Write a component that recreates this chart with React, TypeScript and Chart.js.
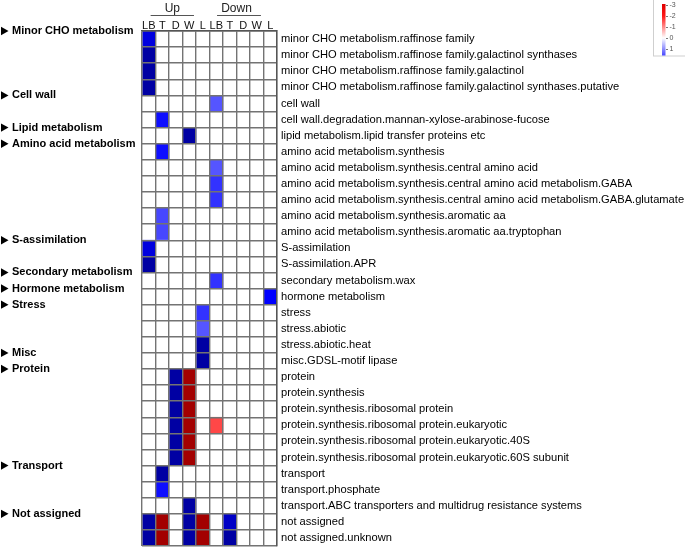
import React, { useEffect, useRef } from 'react';
import { Chart, registerables } from 'chart.js';

Chart.register(...registerables);

const ROW_LABELS = [
  'minor CHO metabolism.raffinose family',
  'minor CHO metabolism.raffinose family.galactinol synthases',
  'minor CHO metabolism.raffinose family.galactinol',
  'minor CHO metabolism.raffinose family.galactinol synthases.putative',
  'cell wall',
  'cell wall.degradation.mannan-xylose-arabinose-fucose',
  'lipid metabolism.lipid transfer proteins etc',
  'amino acid metabolism.synthesis',
  'amino acid metabolism.synthesis.central amino acid',
  'amino acid metabolism.synthesis.central amino acid metabolism.GABA',
  'amino acid metabolism.synthesis.central amino acid metabolism.GABA.glutamate',
  'amino acid metabolism.synthesis.aromatic aa',
  'amino acid metabolism.synthesis.aromatic aa.tryptophan',
  'S-assimilation',
  'S-assimilation.APR',
  'secondary metabolism.wax',
  'hormone metabolism',
  'stress',
  'stress.abiotic',
  'stress.abiotic.heat',
  'misc.GDSL-motif lipase',
  'protein',
  'protein.synthesis',
  'protein.synthesis.ribosomal protein',
  'protein.synthesis.ribosomal protein.eukaryotic',
  'protein.synthesis.ribosomal protein.eukaryotic.40S',
  'protein.synthesis.ribosomal protein.eukaryotic.60S subunit',
  'transport',
  'transport.phosphate',
  'transport.ABC transporters and multidrug resistance systems',
  'not assigned',
  'not assigned.unknown',
];

const COLUMN_LABELS = ['LB', 'T', 'D', 'W', 'L', 'LB', 'T', 'D', 'W', 'L'];
const GROUP_LABELS = ['Up', 'Down'];

const CATEGORY_LABELS = [
  'Minor CHO metabolism',
  'Cell wall',
  'Lipid metabolism',
  'Amino acid metabolism',
  'S-assimilation',
  'Secondary metabolism',
  'Hormone metabolism',
  'Stress',
  'Misc',
  'Protein',
  'Transport',
  'Not assigned',
];
const CATEGORY_FIRST_ROW = [0, 4, 6, 7, 13, 15, 16, 17, 20, 21, 27, 30];

const LEGEND_TICKS = [-3, -2, -1, 0, 1, 2, 3];

// values per column (one entry per row); positive = blue, negative = red
const UP_LB = [2.2, 2.9, 2.9, 2.9, 0, 0, 0, 0, 0, 0, 0, 0, 0, 2.2, 2.9, 0, 0, 0, 0, 0, 0, 0, 0, 0, 0, 0, 0, 0, 0, 0, 2.9, 2.9];
const UP_T = [0, 0, 0, 0, 0, 1.7, 0, 1.7, 0, 0, 0, 1.3, 1.3, 0, 0, 0, 0, 0, 0, 0, 0, 0, 0, 0, 0, 0, 0, 2.9, 1.7, 0, -2.9, -2.9];
const UP_D = [0, 0, 0, 0, 0, 0, 0, 0, 0, 0, 0, 0, 0, 0, 0, 0, 0, 0, 0, 0, 0, 2.9, 2.9, 2.9, 2.9, 2.9, 2.9, 0, 0, 0, 0, 0];
const UP_W = [0, 0, 0, 0, 0, 0, 2.9, 0, 0, 0, 0, 0, 0, 0, 0, 0, 0, 0, 0, 0, 0, -2.9, -2.9, -2.9, -2.9, -2.9, -2.9, 0, 0, 2.9, 2.9, 2.9];
const UP_L = [0, 0, 0, 0, 0, 0, 0, 0, 0, 0, 0, 0, 0, 0, 0, 0, 0, 1.45, 1.2, 2.9, 2.9, 0, 0, 0, 0, 0, 0, 0, 0, 0, -2.9, -2.9];
const DOWN_LB = [0, 0, 0, 0, 1.2, 0, 0, 0, 1.2, 1.45, 1.45, 0, 0, 0, 0, 1.45, 0, 0, 0, 0, 0, 0, 0, 0, -1.3, 0, 0, 0, 0, 0, 0, 0];
const DOWN_T = [0, 0, 0, 0, 0, 0, 0, 0, 0, 0, 0, 0, 0, 0, 0, 0, 0, 0, 0, 0, 0, 0, 0, 0, 0, 0, 0, 0, 0, 0, 2.5, 2.9];
const DOWN_D = [0, 0, 0, 0, 0, 0, 0, 0, 0, 0, 0, 0, 0, 0, 0, 0, 0, 0, 0, 0, 0, 0, 0, 0, 0, 0, 0, 0, 0, 0, 0, 0];
const DOWN_W = [0, 0, 0, 0, 0, 0, 0, 0, 0, 0, 0, 0, 0, 0, 0, 0, 0, 0, 0, 0, 0, 0, 0, 0, 0, 0, 0, 0, 0, 0, 0, 0];
const DOWN_L = [0, 0, 0, 0, 0, 0, 0, 0, 0, 0, 0, 0, 0, 0, 0, 0, 1.8, 0, 0, 0, 0, 0, 0, 0, 0, 0, 0, 0, 0, 0, 0, 0];

const COLUMNS = [UP_LB, UP_T, UP_D, UP_W, UP_L, DOWN_LB, DOWN_T, DOWN_D, DOWN_W, DOWN_L];

const FONT = '"Liberation Sans", Arial, sans-serif';

function cellColor(v: number): string {
  if (v === 0) return '#ffffff';
  const a = Math.min(Math.abs(v), 3);
  let light: number;
  let full: number;
  if (a <= 1.8) {
    light = Math.round(255 * (1 - a / 1.8));
    full = 255;
  } else {
    light = 0;
    full = Math.round(255 - (100 * (a - 1.8)) / 1.2);
  }
  return v > 0 ? `rgb(${light},${light},${full})` : `rgb(${full},${light},${light})`;
}

function legendColor(v: number): string {
  const a = Math.min(Math.abs(v), 3);
  let light: number;
  let full: number;
  if (a <= 2) {
    light = Math.round(255 * (1 - a / 2.2));
    full = 255;
  } else {
    light = Math.round(255 * (1 - 2 / 2.2) * (3 - a));
    full = Math.round(255 - 30 * (a - 2));
  }
  if (v === 0) return '#ffffff';
  return v > 0 ? `rgb(${light},${light},${full})` : `rgb(${full},${light},${light})`;
}

const overlayPlugin = {
  id: 'overlay',
  afterDraw(chart: any) {
    const ctx = chart.ctx as CanvasRenderingContext2D;
    const xs = chart.scales.x;
    const ys = chart.scales.y;
    ctx.save();

    // group headers
    const spans = [
      [0.64, 3.85],
      [5.56, 8.81],
    ];
    ctx.font = `12px ${FONT}`;
    ctx.fillStyle = '#222';
    ctx.textAlign = 'center';
    ctx.textBaseline = 'middle';
    GROUP_LABELS.forEach((g, i) => {
      const x0 = xs.getPixelForValue(spans[i][0]);
      const x1 = xs.getPixelForValue(spans[i][1]);
      ctx.fillText(g, (x0 + x1) / 2 - (i === 1 ? 2.5 : 0), 9);
      ctx.beginPath();
      ctx.moveTo(x0, 15.5);
      ctx.lineTo(x1, 15.5);
      ctx.strokeStyle = '#555';
      ctx.lineWidth = 1;
      ctx.stroke();
    });

    // category labels on the left
    ctx.font = `bold 11px ${FONT}`;
    ctx.textAlign = 'left';
    ctx.fillStyle = '#000';
    CATEGORY_LABELS.forEach((label, i) => {
      const yc = ys.getPixelForValue(CATEGORY_FIRST_ROW[i]) - 8;
      ctx.beginPath();
      ctx.moveTo(1, yc - 4.2);
      ctx.lineTo(8.5, yc);
      ctx.lineTo(1, yc + 4.2);
      ctx.closePath();
      ctx.fill();
      ctx.fillText(label, 12, yc);
    });

    // colour legend
    const step = 11;
    const y0 = 5;
    ctx.strokeStyle = '#cfcfcf';
    ctx.lineWidth = 1;
    ctx.strokeRect(653.5, -1, 40, 57);
    ctx.save();
    ctx.beginPath();
    ctx.rect(654, 0, 31, 55.5);
    ctx.clip();
    const grad = ctx.createLinearGradient(0, y0, 0, y0 + step * 6);
    LEGEND_TICKS.forEach((t, i) => grad.addColorStop(i / 6, legendColor(t)));
    ctx.fillStyle = grad;
    ctx.fillRect(662, y0 - 1, 3.5, step * 6 + 2);
    ctx.font = `7px ${FONT}`;
    ctx.textAlign = 'left';
    ctx.textBaseline = 'middle';
    ctx.fillStyle = '#555';
    ctx.strokeStyle = '#777';
    LEGEND_TICKS.forEach((t, i) => {
      const yy = y0 + i * step;
      ctx.beginPath();
      ctx.moveTo(666, yy + 0.5);
      ctx.lineTo(668, yy + 0.5);
      ctx.stroke();
      ctx.fillText(t < 0 ? `-${Math.abs(t)}` : `${t}`, 669.5, yy + 0.5);
    });
    ctx.restore();

    ctx.restore();
  },
};

export default function App() {
  const canvasRef = useRef<HTMLCanvasElement | null>(null);

  useEffect(() => {
    if (!canvasRef.current) return;
    const datasets = COLUMNS.map((values, c) => ({
      label: `${COLUMN_LABELS[c]}-${c < 5 ? GROUP_LABELS[0] : GROUP_LABELS[1]}`,
      data: ROW_LABELS.map(() => [c, c + 1]),
      backgroundColor: values.map(cellColor),
      borderWidth: 0,
      grouped: false,
      barPercentage: 1,
      categoryPercentage: 1,
      xAxisID: 'x',
      yAxisID: 'y',
    }));

    const chart = new Chart(canvasRef.current, {
      type: 'bar',
      data: { labels: ROW_LABELS, datasets: datasets as any },
      plugins: [overlayPlugin],
      options: {
        indexAxis: 'y',
        animation: false,
        responsive: true,
        maintainAspectRatio: false,
        layout: { padding: { left: 142, top: 17, right: 0, bottom: 2 } },
        plugins: {
          legend: { display: false },
          tooltip: { enabled: false },
        },
        scales: {
          x: {
            type: 'linear',
            position: 'top',
            min: 0,
            max: 10,
            z: 1,
            ticks: { display: false, stepSize: 1 },
            grid: { color: '#737373', lineWidth: 1.4, drawTicks: false, z: 1 },
            border: { display: true, color: '#555', width: 1.4, z: 2 },
            afterFit: (axis: any) => {
              axis.height = 0;
              axis.paddingLeft = 0;
              axis.paddingRight = 0;
            },
          },
          x2: {
            type: 'category',
            axis: 'x',
            position: 'top',
            labels: COLUMN_LABELS,
            offset: true,
            grid: { display: false, drawTicks: false },
            border: { display: false },
            ticks: {
              color: '#111',
              font: { family: FONT, size: 11 },
              padding: -2,
              maxRotation: 0,
              autoSkip: false,
            },
            afterFit: (axis: any) => {
              axis.height = 14;
              axis.paddingLeft = 0;
              axis.paddingRight = 0;
            },
          },
          y: {
            type: 'category',
            position: 'right',
            offset: true,
            z: 1,
            grid: { offset: true, color: '#737373', lineWidth: 1.4, drawTicks: false, z: 1 },
            border: { display: true, color: '#555', width: 1.4, z: 2 },
            ticks: {
              color: '#000',
              font: { family: FONT, size: 11.15 },
              padding: 4,
              autoSkip: false,
            },
            afterFit: (axis: any) => {
              axis.width = 408;
              axis.paddingTop = 0;
              axis.paddingBottom = 0;
            },
          },
        },
      } as any,
    });
    return () => chart.destroy();
  }, []);

  return (
    <div style={{ position: 'absolute', left: 0, top: 0, width: 685, height: 548, background: '#fff' }}>
      <canvas ref={canvasRef} />
    </div>
  );
}
